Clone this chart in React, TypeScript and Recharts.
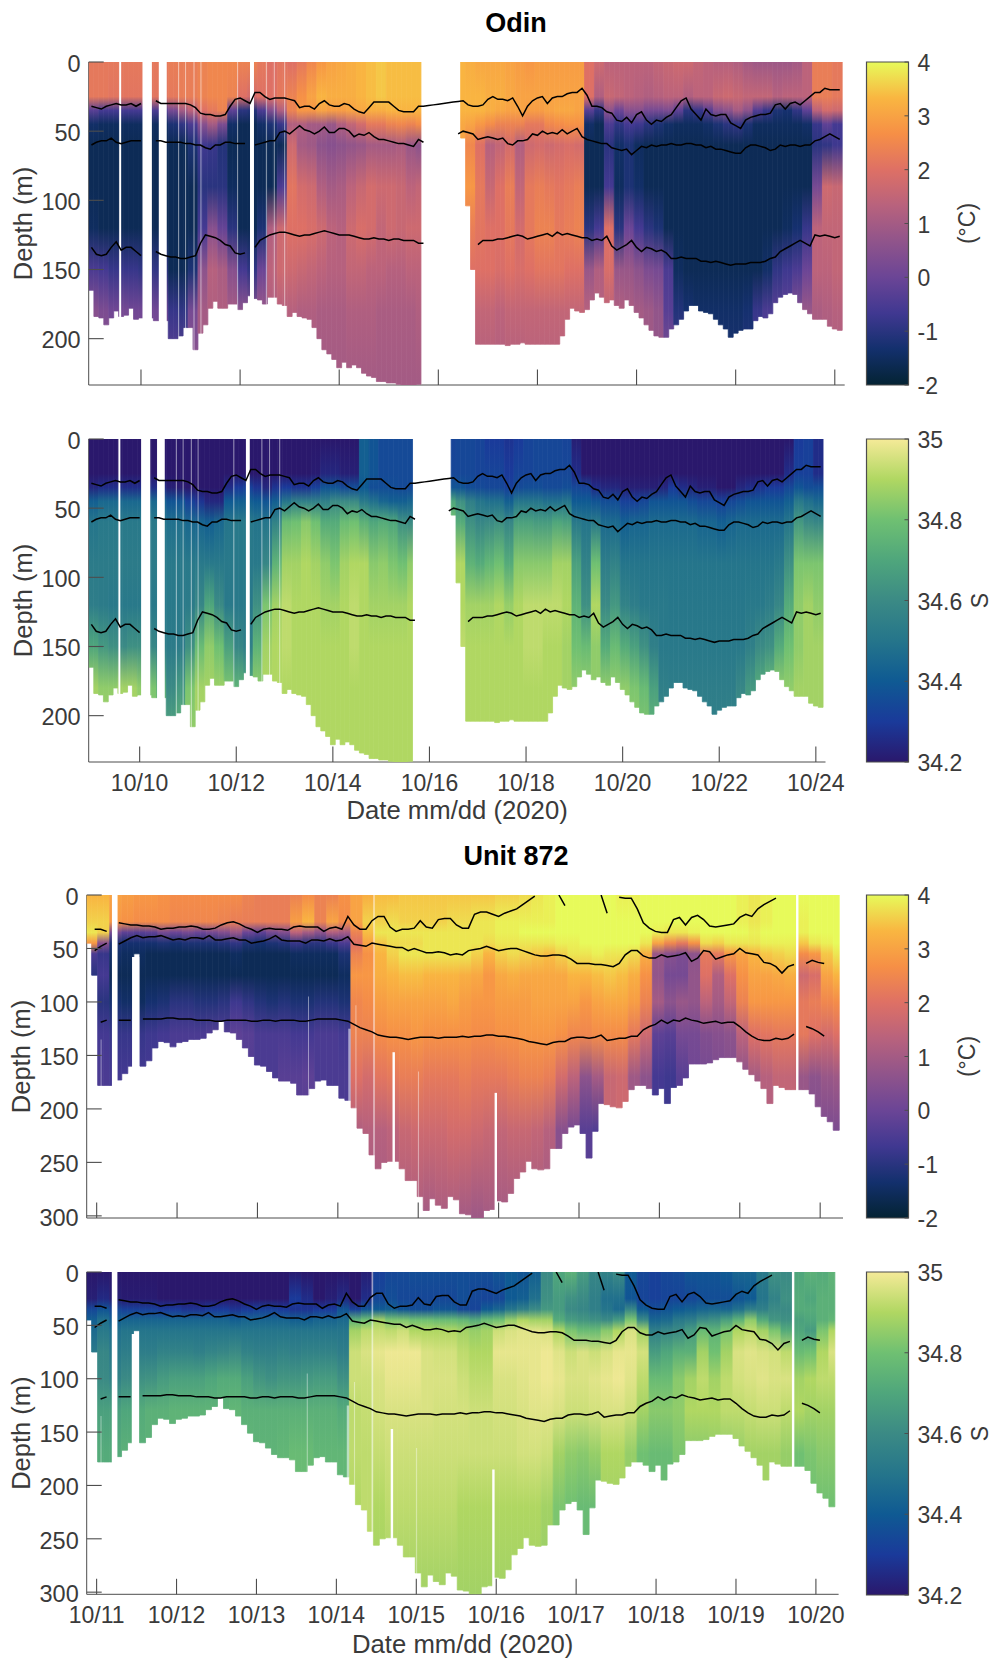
import { Bar, Cell, ComposedChart, Line, ReferenceArea, XAxis, YAxis } from "recharts";

const FONT = "'Liberation Sans', Arial, sans-serif";
const TEXT = "#3a3a3a";
const AXIS = "#4d4d4d";

const thermalPalette = ["#042333", "#13306d", "#403891", "#6b4596", "#90548b", "#b8627d", "#de7065", "#f68f46", "#f9b641", "#e7fa5a"];
const halinePalette = ["#2a186c", "#1a3a9a", "#0f5a93", "#25758b", "#3b8a85", "#4fa67c", "#6fc072", "#b0d762", "#f5ea98"];

// profile stops in metres, one temp/salt value per stop
const odinDepths = [0, 25, 35, 45, 60, 90, 120, 150, 180, 230];
const unitDepths = [0, 25, 35, 45, 55, 75, 100, 130, 170, 220, 300];

// Odin, one value every 0.1 day starting 10/09
const odinBottom = [165,184,185,190,185,180,184,183,178,186,185,185,185,187,187,187,200,200,198,192,192,208,196,190,178,173,178,178,175,175,179,174,169,171,172,175,170,170,175,176,184,181,184,185,186,192,200,208,211,215,221,217,221,219,221,225,227,228,231,231,232,232,233,234,234,234,233,0,0,0,0,0,0,0,0,55,104,150,204,204,204,204,204,204,205,204,204,203,204,204,204,204,204,204,204,198,186,178,180,181,179,172,167,170,174,172,176,178,172,176,181,185,190,194,198,199,199,193,190,186,180,176,176,180,181,182,186,190,193,199,196,194,193,193,187,184,185,182,174,170,168,167,168,174,179,182,186,186,186,191,193,194];
const odinUpper = [32,33,34,32,31,30,31,31,30,32,30,null,null,28,30,30,30,30,30,30,31,33,37,38,38,39,39,38,32,27,26,28,30,22,22,25,27,26,26,26,27,28,33,32,32,34,30,28,31,32,32,30,31,34,36,37,33,29,29,29,29,32,35,36,36,36,32,32,31.5,31,30.5,30,29.5,29,28.5,28,31,32,32,31,27,25,27,27,28,26,32,39,32,28,26,25,30,26,25,25,23,22,22,19,24,32,32,33,36,37,42,43,40,44,38,36,42,45,42,43,40,38,33,28,26,34,38,42,34,38,39,38,38,44,46,48,42,40,39,38,38,37,31,30,34,30,29,31,28,25,22,22,19,20,20,20];
const odinMiddle = [60,58,57,57,55,58,59,58,57,57,57,null,null,57,57,58,58,58,58,59,59,60,60,62,63,60,60,58,58,59,59,59,null,60,59,58,57,57,51,50,52,49,46,49,50,52,50,47,51,51,48,48,50,54,52,53,51,54,56,56,57,58,59,59,60,61,56,58,null,null,null,null,null,null,52,50,51,52,56,55,54,55,56,55,59,60,57,57,56,52,53,50,52,51,52,49,52,50,48,54,56,57,58,59,59,62,63,64,63,67,64,61,62,60,61,60,60,59,60,60,59,59,60,60,62,61,63,63,64,65,66,66,62,60,60,61,62,64,63,60,61,60,60,61,60,60,57,56,54,52,54,56];
const odinLower = [134,139,140,139,134,130,136,134,134,137,140,null,null,137,139,140,141,141,142,142,141,140,131,125,126,127,129,132,133,138,139,138,null,134,129,127,125,124,123,123,124,125,126,125,125,124,123,122,123,124,125,125,125,126,127,128,128,127,128,128,129,128,128,129,129,129,131,131,null,null,null,null,null,null,null,null,null,null,132,129,129,129,128,128,127,126,125,126,128,127,126,125,124,126,123,125,124,125,126,127,127,129,128,129,126,133,136,134,132,129,134,137,134,135,137,136,138,142,142,141,142,142,142,144,144,145,144,145,146,147,146,146,146,145,145,145,144,142,141,137,135,133,131,129,131,133,125,126,125,126,127,126];

// temperature in tenths of a degree, one row every 0.2 day
const odinTemp = [
  [22,22,-3,-14,-16,-16,-15,-5,5,7],[22,22,-6,-15,-16,-16,-16,-6,3,6],[22,21,-6,-15,-16,-16,-16,-8,1,5],[22,21,-6,-15,-16,-16,-16,-8,2,5],
  [22,21,-6,-15,-16,-16,-16,-8,1,5],[22,21,-6,-15,-16,-16,-16,-9,1,5],[22,21,-5,-15,-16,-16,-16,-9,1,5],[22,21,-4,-15,-16,-16,-16,-9,1,5],
  [23,22,2,-12,-16,-16,-16,-16,-8,0],[23,23,10,-9,-16,-16,-16,-16,-9,0],[23,23,14,-5,-12,-16,-16,-12,2,7],[24,24,20,5,-7,-10,-6,6,10,10],
  [25,25,22,10,-8,-10,5,13,12,12],[25,25,24,3,-11,-10,-1,11,12,12],[25,24,-2,-14,-16,-15,-10,5,10,10],[24,20,-10,-16,-16,-16,-16,-6,6,8],
  [24,18,-11,-16,-16,-16,-16,-9,5,8],[22,20,-5,-14,-16,-16,-12,0,8,10],[20,20,4,-12,-16,-16,12,14,12,10],[21,22,12,-8,-16,-5,17,17,13,11],
  [20,24,24,12,17,21,20,17,13,11],[22,27,28,12,10,18,20,16,12,10],[25,30,28,10,9,17,19,15,12,10],[28,33,30,10,6,12,17,14,11,10],
  [30,32,29,8,5,10,14,13,11,10],[31,32,29,12,6,11,13,13,11,10],[32,32,30,15,7,14,17,15,12,10],[33,33,31,18,8,16,19,15,12,10],
  [34,34,32,22,10,18,18,14,12,10],[35,35,32,22,10,17,15,14,11,10],[34,34,33,24,10,17,17,13,11,10],[34,34,33,25,11,16,16,13,11,10],
  [34,34,33,24,8,14,17,14,11,10],[34,34,33,26,6,15,17,14,12,10],[],[],[],
  [33,33,33,31,30,30,24,20,15,12],[32,33,33,30,25,28,23,20,15,12],[31,33,33,28,20,22,21,20,15,12],[31,32,32,26,13,16,20,20,15,12],
  [31,32,31,24,15,20,20,19,14,12],[30,31,30,24,18,23,22,20,15,12],[29,30,30,24,12,15,18,19,15,12],[28,30,29,22,17,22,22,20,15,13],
  [29,30,29,22,18,23,24,21,15,13],[29,30,30,25,17,22,24,21,15,13],[29,30,31,26,18,21,22,21,15,13],[29,30,31,27,19,22,23,20,15,13],
  [29,30,30,27,18,23,24,20,15,13],[20,20,-3,-14,-16,-16,-10,8,13,12],[17,12,-9,-16,-16,-16,-6,12,13,12],[14,16,6,-5,-10,-6,20,19,14,12],
  [14,15,0,-9,-14,-15,-10,8,12,12],[14,14,5,-6,-12,-12,0,8,11,11],[14,13,5,-7,-15,-14,-6,6,10,10],[14,12,2,-10,-16,-16,-10,3,9,9],
  [15,13,2,-12,-16,-16,-12,2,7,8],[16,14,3,-14,-16,-16,-16,-5,-3,6],[17,14,-2,-15,-16,-16,-16,-15,-11,-5],[17,12,-10,-15,-16,-16,-16,-16,-13,-10],
  [15,14,-8,-15,-16,-16,-16,-16,-14,-11],[14,14,-3,-14,-16,-16,-16,-16,-14,-12],[13,16,4,-12,-16,-16,-16,-16,-14,-12],[13,17,6,-10,-16,-16,-16,-16,-14,-12],
  [12,16,10,-9,-16,-16,-16,-16,-14,-12],[10,15,6,-12,-16,-16,-16,-16,-13,-10],[9,15,-4,-15,-16,-16,-16,-16,-8,-4],[9,15,-8,-15,-16,-16,-16,-14,-5,-3],
  [9,13,-12,-15,-16,-16,-16,-9,-3,0],[9,14,-13,-15,-16,-16,-15,-7,-2,0],[10,14,-9,-15,-16,-16,-13,-5,4,6],[14,14,-2,-14,-16,-16,-8,0,8,9],
  [23,23,14,-8,-10,2,14,14,11,11],[23,23,18,-2,-9,17,15,14,12,11],[22,22,17,-6,-7,16,15,15,13,11],
];

// salinity as hundredths above 34
const odinSalt = [
  [20,20,24,42,50,53,54,70,88,90],[20,20,26,45,52,53,53,65,85,90],[20,20,26,45,52,53,52,62,85,90],[20,20,26,45,52,53,52,60,88,90],
  [20,20,26,45,52,53,52,62,88,90],[20,20,26,45,52,53,52,62,85,88],[20,20,26,45,52,53,52,58,82,85],[20,20,26,45,52,53,52,55,75,85],
  [20,20,22,38,48,52,52,53,60,75],[20,20,21,38,48,52,52,53,65,80],[20,20,20,32,45,52,53,62,82,88],[20,20,20,28,44,52,58,78,88,90],
  [20,20,20,24,42,52,70,85,88,90],[20,20,20,24,45,52,60,80,87,90],[20,20,26,40,50,52,52,68,82,85],[20,20,30,42,52,52,52,58,75,82],
  [20,20,32,42,52,52,52,55,72,82],[20,20,28,40,50,52,62,75,85,88],[20,20,24,38,50,58,82,88,90,90],[20,20,28,42,56,75,88,90,90,90],
  [20,20,30,50,78,88,92,92,90,90],[20,20,28,55,80,88,90,90,90,90],[20,20,28,55,84,90,90,90,90,90],[20,21,32,55,80,88,90,90,90,90],
  [20,24,38,55,72,85,88,90,90,90],[20,24,38,60,72,82,88,90,90,90],[20,22,35,60,78,88,90,90,90,90],[20,22,36,60,80,90,92,92,90,90],
  [42,42,40,52,74,90,90,90,90,90],[38,38,36,48,70,84,88,90,90,90],[35,35,36,44,72,85,88,90,90,90],[35,35,36,42,70,82,88,90,90,90],
  [35,35,35,42,62,80,88,90,90,90],[35,35,35,44,60,85,90,90,90,90],[],[],[],
  [33,34,38,70,80,92,90,90,90,90],[34,34,38,62,72,90,90,92,90,90],[34,34,36,55,62,75,88,90,90,90],[33,33,35,50,58,72,88,90,90,90],
  [30,33,34,48,60,76,88,90,90,90],[30,33,34,48,62,80,90,90,90,90],[28,30,32,42,58,72,86,90,90,90],[30,33,35,50,68,84,90,90,90,90],
  [33,33,36,50,68,84,92,92,90,90],[34,34,36,50,66,84,92,92,90,90],[34,34,35,48,66,84,92,90,90,90],[34,34,35,48,70,88,92,90,90,90],
  [33,34,36,50,68,88,90,88,88,90],[22,26,34,40,52,68,75,80,85,88],[20,20,33,40,50,56,62,78,85,88],[20,20,26,38,52,80,90,85,85,88],
  [20,20,24,36,46,54,60,72,85,88],[20,20,24,36,46,56,65,78,85,88],[20,20,22,32,42,50,56,72,85,88],[20,20,22,32,44,50,54,68,82,88],
  [20,20,22,34,44,50,52,62,78,85],[20,20,22,38,46,50,52,55,68,80],[20,20,24,38,46,50,52,52,55,62],[20,20,30,38,46,50,51,52,54,60],
  [20,20,26,38,46,50,51,52,54,58],[20,20,24,36,46,50,51,52,54,58],[20,20,22,34,44,50,51,52,54,56],[20,20,22,34,44,50,51,52,54,56],
  [20,20,20,32,42,50,51,52,54,56],[20,20,20,34,44,50,51,52,54,58],[20,20,24,36,46,50,51,52,58,65],[20,20,26,38,46,50,52,55,65,72],
  [20,20,28,38,46,50,52,60,72,80],[20,20,30,38,46,50,54,62,78,85],[20,20,30,38,46,52,58,72,85,88],[20,26,34,42,50,62,72,80,85,88],
  [30,32,38,52,65,82,85,85,88,88],[32,32,36,48,60,82,88,88,88,88],[26,26,36,45,58,82,85,88,88,88],
];

// [from day, to day, from depth]
const odinGaps = [[9.56,9.6,0],[10.03,10.22,0],[10.36,10.52,0],[10.75,10.77,0],[10.89,10.91,0],[11.06,11.08,0],[11.2,11.22,0],[11.94,11.96,0],[12.2,12.28,0],[12.52,12.54,0],[12.68,12.7,0],[12.89,12.91,0]];

// Unit 872, one value every 0.075 day starting 10/10.9
const unitBottom = [45,75,178,178,178,173,167,160,55,160,155,143,137,138,142,138,137,135,135,134,129,126,118,128,129,135,143,151,159,160,165,171,174,174,176,187,187,181,174,173,178,178,190,192,199,218,223,243,256,250,249,249,256,267,267,282,295,284,290,293,282,285,298,299,302,302,295,294,286,287,279,265,259,249,256,257,256,237,237,223,217,215,223,246,221,195,196,198,199,193,182,178,178,181,187,181,195,180,178,171,158,158,158,157,154,152,152,152,156,163,168,174,181,195,178,180,182,182,182,182,186,198,207,212,220];
const unitUpper = [null,32,32,34,null,26,27,28,28,29,29,30,32,31,31,30,30,29,30,32,32,31,28,26,25,27,30,32,35,32,31,32,32,33,30,29,30,30,30,34,31,30,32,20,28,32,32,24,20,20,30,34,32,32,31,24,30,31,23,22,22,28,31,31,18,16,16,18,20,17,15,13,9,5,1,null,null,null,0,10,null,null,null,null,null,0,17,null,2,3,3,13,26,31,34,35,35,23,21,28,21,19,23,29,30,29,28,27,21,18,20,13,9,6,3,null,null,null,null,null,null,null,null,null,null];
const unitMiddle = [null,52,48,45,null,46,43,40,38,40,39,39,38,40,42,41,42,40,40,41,38,42,42,41,40,42,42,45,44,43,41,38,42,43,43,43,45,42,42,43,41,43,42,39,46,47,48,45,46,47,48,49,49,52,50,52,54,54,53,54,56,55,56,52,51,50,48,50,52,51,50,50,52,54,56,57,57,56,56,57,60,64,64,64,65,65,66,67,64,56,52,52,57,59,59,56,58,57,56,54,62,59,52,53,60,58,56,55,50,54,55,56,63,64,67,73,67,65,null,64,61,63,64,null,null];
const unitLower = [null,null,119,117,null,117,117,117,null,116,116,116,116,115,115,116,116,116,117,117,117,118,118,117,117,117,117,118,118,117,117,118,117,117,117,118,118,117,116,116,116,116,117,118,121,124,126,128,131,132,133,133,134,135,134,133,133,133,134,133,133,133,132,133,132,132,131,131,132,132,133,134,135,137,138,139,140,138,137,137,134,133,133,134,133,131,136,135,134,134,132,132,126,123,121,117,120,117,118,115,117,118,120,119,118,120,119,119,123,128,132,135,136,136,134,135,134,130,null,123,125,128,132,null,null];

const unitTemp = [
  [33,36,38,28,-5,-10,-10,-6,-5,-5,-5],[33,36,36,5,-8,-6,-10,-6,-5,-5,-5],[30,28,2,-12,-14,-16,-13,-8,-6,-6,-6],[29,27,-2,-13,-15,-16,-14,-8,-6,-6,-6],
  [28,26,-3,-13,-15,-16,-15,-8,-6,-6,-6],[28,26,-2,-13,-16,-16,-13,-7,-6,-6,-6],[27,26,2,-12,-16,-16,-12,-6,-5,-5,-5],[26,25,0,-13,-16,-16,-10,-5,-5,-5,-5],
  [26,25,2,-12,-16,-16,-10,-5,-5,-5,-5],[26,25,0,-12,-16,-16,-11,-5,-5,-5,-5],[26,25,2,-12,-16,-16,-11,-4,-4,-4,-4],[26,24,4,-11,-16,-16,-10,-4,-4,-4,-4],
  [26,23,8,-9,-15,-16,-7,-2,-4,-4,-4],[24,23,0,-12,-16,-16,-9,-3,-4,-4,-4],[23,23,-2,-13,-16,-16,-11,-5,-5,-5,-5],[23,23,2,-12,-16,-16,-12,-5,-5,-5,-5],
  [23,23,4,-11,-16,-16,-11,-5,-3,-3,-3],[24,29,14,-8,-15,-16,-12,-6,-3,-3,-3],[26,33,10,-10,-15,-16,-12,-6,-2,-4,-4],[24,24,6,-10,-15,-16,-11,-5,-5,-5,-5],
  [24,30,12,-8,-15,-16,-11,-5,-5,-5,-5],[27,26,10,-5,-12,-15,-12,-6,-5,-5,-5],[30,30,24,20,24,28,25,24,20,12,12],[32,36,34,30,27,28,26,24,18,13,10],
  [34,36,38,35,33,32,29,26,21,13,10],[34,37,38,37,36,33,30,27,22,14,11],[35,36,38,37,38,34,30,27,23,16,11],[35,36,38,37,38,34,30,28,23,17,11],
  [35,36,38,38,38,33,30,27,22,17,10],[35,36,38,38,38,33,30,27,22,17,11],[35,37,38,38,38,33,31,27,22,18,11],[35,37,38,38,38,32,29,27,23,18,10],
  [35,38,38,38,36,31,28,26,22,17,9],[35,38,38,37,33,28,28,26,22,16,10],[36,39,39,38,36,31,29,27,22,15,10],[36,39,39,38,37,32,29,27,23,16,10],
  [37,39,40,38,36,31,29,28,24,16,10],[38,39,40,38,35,31,30,28,24,15,10],[39,39,40,38,34,31,30,28,23,13,10],[40,40,40,39,36,31,30,27,18,5,5],
  [40,40,40,39,38,33,30,25,14,2,2],[40,40,40,40,38,33,28,25,6,-3,-3],[40,40,40,40,39,34,30,26,10,-4,-4],[40,40,40,40,38,35,31,26,16,16,16],
  [39,40,40,40,38,34,31,26,17,17,17],[39,40,40,40,37,32,29,22,9,9,9],[40,40,40,38,32,27,24,17,6,6,6],[40,40,39,30,8,7,10,-2,-6,-6,-6],
  [40,40,38,25,5,2,6,-3,-7,-7,-7],[40,40,38,22,3,2,8,2,-3,-3,-3],[40,40,39,27,6,7,7,2,1,1,1],[40,40,40,37,22,20,14,4,2,2,2],
  [40,40,40,36,22,12,10,5,3,3,3],[40,40,40,38,28,20,15,6,4,4,4],[39,39,40,38,30,27,24,14,6,6,6],[38,38,39,38,33,30,28,20,10,10,10],
  [39,39,40,39,35,30,28,21,13,13,13],[40,40,40,39,36,31,28,22,15,15,15],[40,40,40,39,37,32,28,22,15,15,15],[40,39,39,35,26,17,22,22,8,8,8],
  [40,40,40,38,28,19,23,20,6,4,4],[40,40,40,39,35,30,25,18,8,3,3],[40,40,40,40,38,33,26,20,9,3,3],
];

const unitSalt = [
  [20,22,34,42,46,52,60,70,74,74,74],[20,25,38,48,52,58,60,68,72,72,72],[20,22,34,42,48,52,56,68,72,72,72],[20,21,32,44,50,54,60,70,74,74,74],
  [20,21,32,44,50,54,62,72,74,74,74],[20,21,32,44,50,54,63,74,74,74,74],[20,20,30,44,50,56,66,74,75,75,75],[20,20,30,44,50,56,68,75,75,75,75],
  [20,20,28,44,50,56,68,75,75,75,75],[20,20,28,44,50,55,68,75,75,75,75],[20,20,30,44,50,57,70,75,75,75,75],[20,20,30,44,50,58,72,75,75,75,75],
  [20,20,28,42,50,60,72,76,76,76,76],[20,20,30,44,50,56,68,74,76,76,76],[20,20,32,44,50,55,64,74,75,75,75],[20,20,32,44,50,55,62,74,75,75,75],
  [20,20,30,44,50,56,64,74,76,76,76],[21,30,28,42,50,55,64,74,78,78,78],[20,26,28,42,50,56,65,74,78,78,78],[20,20,30,44,50,56,66,74,76,76,76],
  [20,22,30,44,50,56,66,74,76,76,76],[20,25,38,46,50,54,62,72,76,76,76],[20,20,32,75,88,94,94,92,92,90,90],[22,26,38,80,92,96,94,93,92,92,90],
  [32,34,40,88,93,98,96,95,93,90,88],[34,36,42,82,92,99,98,96,94,92,88],[35,34,38,82,94,99,98,96,94,92,88],[36,34,36,80,90,99,98,96,94,92,88],
  [36,34,36,80,90,96,96,96,94,92,88],[36,34,38,78,90,95,96,95,94,92,88],[36,34,38,78,90,95,96,95,94,92,88],[36,36,34,76,88,92,94,95,94,90,88],
  [36,34,33,72,86,90,92,94,94,90,88],[36,33,40,78,88,90,92,94,94,90,88],[38,34,44,80,94,98,96,95,94,90,88],[40,40,50,86,96,98,96,95,94,90,88],
  [38,42,55,90,97,98,97,96,95,90,88],[42,48,60,88,97,98,98,97,95,90,88],[60,62,65,88,96,99,99,97,94,88,86],[70,66,66,72,90,97,98,96,88,82,82],
  [74,62,60,66,82,94,96,94,85,80,80],[66,60,58,64,78,96,96,94,84,78,78],[58,55,55,62,78,94,97,95,86,78,78],[56,48,50,60,84,96,98,96,90,88,88],
  [60,48,46,66,90,98,99,96,90,88,88],[40,38,58,82,96,98,97,94,86,86,86],[34,33,40,60,88,95,92,88,80,80,80],[32,32,36,44,55,66,78,84,78,78,78],
  [34,33,38,46,58,70,78,84,78,78,78],[35,33,40,52,60,74,84,85,82,82,82],[38,34,42,54,66,74,88,90,84,84,84],[38,36,44,60,78,88,92,90,84,84,84],
  [38,36,45,62,75,80,88,90,85,85,85],[40,36,44,68,82,88,92,92,85,85,85],[44,38,48,75,90,96,95,92,86,86,86],[44,40,55,85,92,97,96,93,88,88,88],
  [52,50,55,72,88,96,97,94,88,88,88],[62,56,60,64,82,95,96,94,88,88,88],[60,62,60,62,72,92,96,92,86,86,86],[70,72,72,68,70,78,88,90,80,80,80],
  [74,70,72,70,66,80,90,88,82,80,80],[72,74,74,74,82,90,92,88,84,80,80],[75,74,74,76,90,96,92,88,84,80,80],
];

const unitGaps = [[11.19,11.26,0],[14.44,14.46,0],[19.7,19.73,0],[11.44,11.53,58],[11.05,11.06,135],[13.63,13.64,95],[14.13,14.16,125],[14.22,14.23,103],[14.68,14.71,147],[15,15.01,165],[15.95,15.98,185]];

const odinDateTicks = [10, 12, 14, 16, 18, 20, 22, 24];
const unitDateTicks = [11, 12, 13, 14, 15, 16, 17, 18, 19, 20];
const odinDepthTicks = [0, 50, 100, 150, 200];
const unitDepthTicks = [0, 50, 100, 150, 200, 250, 300];
const tempTicks = [-2, -1, 0, 1, 2, 3, 4];
const saltTicks = [34.2, 34.4, 34.6, 34.8, 35];

function hexToRgb(hex: string) {
  return [1, 3, 5].map((i) => parseInt(hex.slice(i, i + 2), 16));
}

function paletteColor(palette: string[], min: number, max: number, value: number) {
  const pos = Math.min(1, Math.max(0, (value - min) / (max - min))) * (palette.length - 1);
  const lo = Math.floor(pos);
  const hi = Math.min(palette.length - 1, lo + 1);
  const a = hexToRgb(palette[lo]);
  const b = hexToRgb(palette[hi]);
  const rgb = a.map((c, i) => Math.round(c + (b[i] - c) * (pos - lo)));
  return `rgb(${rgb.join(",")})`;
}

const tempColor = (v: number) => paletteColor(thermalPalette, -2, 4, v / 10);
const saltColor = (v: number) => paletteColor(halinePalette, 34.2, 35, 34 + v / 100);

function makeRows(bottom: number[], upper: any[], middle: any[], lower: any[], start: number, step: number) {
  return bottom.map((b, i) => ({
    day: +(start + i * step).toFixed(3),
    bottom: b > 0 ? b : null,
    upper: upper[i],
    middle: middle[i],
    lower: lower[i],
  }));
}

const odinRows = makeRows(odinBottom, odinUpper, odinMiddle, odinLower, 9, 0.1);
const unitRows = makeRows(unitBottom, unitUpper, unitMiddle, unitLower, 10.9, 0.075);

function Heat(props: any) {
  const { id, rows, profiles, depths, color, left, top, width, height, xDomain, xTicks, yDomain, yTicks, gaps, step, dates, labelOffset } = props;
  const maxDepth = depths[depths.length - 1];
  // just under the band, recharts shrinks the bar to 90% otherwise; the stroke closes the seams
  const barSize = ((width * step) / (xDomain[1] - xDomain[0])) * 0.995;

  const dateTick = ({ x, y, payload }: any) => (
    <g>
      <line x1={x} x2={x} y1={y} y2={y - 15.5} stroke={AXIS} strokeWidth={1.1} />
      {dates && (
        <text x={x} y={y + 21} dy="0.35em" textAnchor="middle" fontSize={23} fontFamily={FONT} fill={TEXT}>
          {`10/${payload.value}`}
        </text>
      )}
    </g>
  );
  const depthTick = ({ x, y, payload }: any) => (
    <g>
      <line x1={x} x2={x + 15} y1={y} y2={y} stroke={AXIS} strokeWidth={1.1} />
      <text x={x - 8} y={y + 1.5} dy="0.35em" textAnchor="end" fontSize={23.5} fontFamily={FONT} fill={TEXT}>
        {payload.value}
      </text>
    </g>
  );

  return (
    <div style={{ position: "absolute", left: 0, top: top - 10 }}>
      <ComposedChart
        width={993}
        height={height + 90}
        data={rows}
        barCategoryGap={0}
        barGap={0}
        margin={{ top: 10, left: left - 1, right: 993 - left - width, bottom: 79 }}
      >
        <defs>
          {rows.map((r: any, i: number) => {
            const values = profiles[Math.floor(i / 2)];
            if (!r.bottom || !values || !values.length) return null;
            return (
              <linearGradient key={i} id={`${id}-${i}`} x1="0" y1="0" x2="0" y2={maxDepth / r.bottom}>
                {values.map((v: number, k: number) => (
                  <stop key={k} offset={depths[k] / maxDepth} stopColor={color(v)} />
                ))}
              </linearGradient>
            );
          })}
        </defs>
        <XAxis
          dataKey="day"
          type="number"
          domain={xDomain}
          ticks={xTicks}
          height={1}
          tickSize={0}
          tickMargin={0}
          tickLine={false}
          interval={0}
          allowDataOverflow
          zIndex={50}
          stroke={AXIS}
          tick={dateTick}
          label={dates ? { value: "Date mm/dd (2020)", position: "bottom", offset: labelOffset, fontSize: 25.7, fontFamily: FONT, fill: TEXT } : undefined}
        />
        <YAxis
          type="number"
          domain={yDomain}
          ticks={yTicks}
          reversed
          width={1}
          tickSize={0}
          tickMargin={0}
          tickLine={false}
          interval={0}
          allowDataOverflow
          zIndex={50}
          stroke={AXIS}
          tick={depthTick}
          label={{ value: "Depth (m)", angle: -90, position: "left", offset: 65, fontSize: 25.5, fontFamily: FONT, fill: TEXT, textAnchor: "middle" }}
        />
        <Bar dataKey="bottom" barSize={barSize} strokeWidth={0.8} isAnimationActive={false}>
          {rows.map((r: any, i: number) => (
            <Cell key={i} fill={`url(#${id}-${i})`} stroke={`url(#${id}-${i})`} />
          ))}
        </Bar>
        {gaps.map((g: number[], i: number) => (
          <ReferenceArea
            key={i}
            x1={g[0]}
            x2={g[1]}
            y1={g[2]}
            y2={yDomain[1] - 1.5}
            fill="#fff"
            fillOpacity={g[1] - g[0] < 0.03 ? 0.55 : 1}
            stroke="none"
            ifOverflow="hidden"
            zIndex={350}
          />
        ))}
        <Line dataKey="upper" stroke="#000" strokeWidth={1.5} dot={false} isAnimationActive={false} />
        <Line dataKey="middle" stroke="#000" strokeWidth={1.5} dot={false} isAnimationActive={false} />
        <Line dataKey="lower" stroke="#000" strokeWidth={1.5} dot={false} isAnimationActive={false} />
      </ComposedChart>
    </div>
  );
}

function ColorBar(props: any) {
  const { id, palette, min, max, ticks, left, top, label, labelOffset, digits } = props;
  const tick = ({ x, y, payload }: any) => (
    <g>
      <line x1={x - 4} x2={x} y1={y} y2={y} stroke={AXIS} strokeWidth={1} />
      <text x={x + 9} y={y + 1} dy="0.35em" fontSize={23} fontFamily={FONT} fill={TEXT}>
        {digits && payload.value !== 35 ? payload.value.toFixed(digits) : payload.value}
      </text>
    </g>
  );
  return (
    <div style={{ position: "absolute", left: 0, top: top - 20 }}>
      <ComposedChart
        width={993}
        height={363}
        data={[{ name: "bar", range: [min, max] }]}
        barCategoryGap={0}
        margin={{ top: 20, bottom: 20, left, right: 993 - left - 42 - 1 }}
      >
        <defs>
          <linearGradient id={id} x1="0" y1="1" x2="0" y2="0">
            {palette.map((c: string, i: number) => (
              <stop key={i} offset={i / (palette.length - 1)} stopColor={c} />
            ))}
          </linearGradient>
        </defs>
        <XAxis dataKey="name" hide />
        <Bar dataKey="range" fill={`url(#${id})`} stroke={AXIS} strokeWidth={1.2} isAnimationActive={false} />
        <YAxis
          type="number"
          orientation="right"
          domain={[min, max]}
          ticks={ticks}
          width={1}
          tickSize={0}
          tickMargin={0}
          tickLine={false}
          axisLine={false}
          interval={0}
          tick={tick}
          label={{ value: label, angle: -90, position: "right", offset: labelOffset, fontSize: 23, fontFamily: FONT, fill: TEXT, textAnchor: "middle" }}
        />
      </ComposedChart>
    </div>
  );
}

const titleStyle = (top: number): any => ({
  position: "absolute",
  left: 316,
  width: 400,
  top,
  textAlign: "center",
  fontFamily: FONT,
  fontWeight: "bold",
  fontSize: 27,
  lineHeight: "30px",
  color: "#000",
});

export default function App() {
  const odinDomainX = [8.945, 24.2];
  const unitDomainX = [10.876, 20.284];
  return (
    <div style={{ position: "absolute", left: 0, top: 0, width: 993, height: 1661, background: "#fff", overflow: "hidden" }}>
      <div style={titleStyle(8)}>Odin</div>
      <Heat id="ot" rows={odinRows} profiles={odinTemp} depths={odinDepths} color={tempColor} left={88.7} top={62.3} width={756} height={323} xDomain={odinDomainX} xTicks={odinDateTicks} yDomain={[0, 233.5]} yTicks={odinDepthTicks} gaps={odinGaps} step={0.1} />
      <ColorBar id="cb1" palette={thermalPalette} min={-2} max={4} ticks={tempTicks} left={866.5} top={62.3} label="(°C)" labelOffset={57} />

      <Heat id="os" rows={odinRows} profiles={odinSalt} depths={odinDepths} color={saltColor} left={88.7} top={439} width={736.8} height={323} xDomain={odinDomainX} xTicks={odinDateTicks} yDomain={[0, 233.5]} yTicks={odinDepthTicks} gaps={odinGaps} step={0.1} dates labelOffset={38} />
      <ColorBar id="cb2" palette={halinePalette} min={34.2} max={35} ticks={saltTicks} left={866.5} top={439} label="S" labelOffset={70} digits={1} />

      <div style={titleStyle(841)}>Unit 872</div>
      <Heat id="ut" rows={unitRows} profiles={unitTemp} depths={unitDepths} color={tempColor} left={86.7} top={895} width={756.3} height={323} xDomain={unitDomainX} xTicks={unitDateTicks} yDomain={[0, 302]} yTicks={unitDepthTicks} gaps={unitGaps} step={0.075} />
      <ColorBar id="cb3" palette={thermalPalette} min={-2} max={4} ticks={tempTicks} left={866.5} top={895} label="(°C)" labelOffset={57} />

      <Heat id="us" rows={unitRows} profiles={unitSalt} depths={unitDepths} color={saltColor} left={86.7} top={1272} width={751.9} height={322.3} xDomain={unitDomainX} xTicks={unitDateTicks} yDomain={[0, 302]} yTicks={unitDepthTicks} gaps={unitGaps} step={0.075} dates labelOffset={39} />
      <ColorBar id="cb4" palette={halinePalette} min={34.2} max={35} ticks={saltTicks} left={866.5} top={1272} label="S" labelOffset={70} digits={1} />
    </div>
  );
}
